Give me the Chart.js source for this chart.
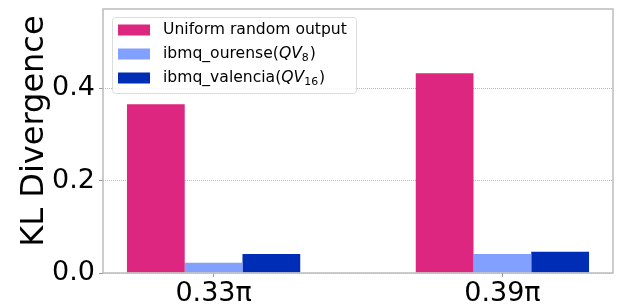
<!DOCTYPE html>
<html>
<head>
<meta charset="utf-8">
<script src="https://cdn.jsdelivr.net/npm/chart.js@4/dist/chart.umd.min.js"></script>
<style>
  html, body { margin: 0; padding: 0; background: #fff; }
  canvas { display: block; }
</style>
</head>
<body>
<canvas id="myChart" width="624" height="305"></canvas>
<script>
// data
const categories = ["0.33π", "0.39π"];
const uniformRandom = [0.365, 0.432];
const ibmqOurense = [0.022, 0.041];
const ibmqValencia = [0.041, 0.046];
const seriesNames = ["Uniform random output", "ibmq_ourense", "ibmq_valencia"];
const quantumVolumes = ["", "8", "16"];
const yTicks = [0, 0.2, 0.4];
const yLabel = "KL Divergence";

const colors = ["#dc267f", "#82a0ff", "#002db5"];
const FONT = "'DejaVu Sans', sans-serif";

const toPoints = (arr) => arr.map((v, i) => ({ x: i, y: v }));

// setup block
const data = {
  datasets: [uniformRandom, ibmqOurense, ibmqValencia].map((vals, i) => ({
    label: seriesNames[i],
    data: toPoints(vals),
    backgroundColor: colors[i],
    borderWidth: 0,
    barPercentage: 1,
    categoryPercentage: 0.6,
  })),
};

// plugin - frame, y title, legend with math text
const extras = {
  id: "extras",
  afterDatasetsDraw(chart) {
    const { ctx, chartArea: a } = chart;
    ctx.save();
    ctx.strokeStyle = "#bcbcbc";
    ctx.lineWidth = 1.5;
    ctx.strokeRect(a.left, a.top, a.right - a.left, a.bottom - a.top);
    ctx.restore();
  },
  afterDraw(chart) {
    const ctx = chart.ctx;
    // y axis title
    ctx.save();
    ctx.translate(43, 131);
    ctx.rotate(-Math.PI / 2);
    ctx.font = "32px " + FONT;
    ctx.fillStyle = "#000";
    ctx.textAlign = "center";
    ctx.textBaseline = "alphabetic";
    ctx.fillText(yLabel, 0, 0);
    ctx.restore();

    // legend
    ctx.save();
    ctx.fillStyle = "rgba(255,255,255,0.8)";
    ctx.strokeStyle = "#dcdcdc";
    ctx.lineWidth = 1;
    ctx.beginPath();
    ctx.roundRect(112.5, 17.5, 244, 76, 3);
    ctx.fill();
    ctx.stroke();
    const rows = [30, 54, 78];
    const fs = 15.6;
    seriesNames.forEach((name, i) => {
      const y = rows[i];
      ctx.fillStyle = colors[i];
      ctx.fillRect(118, y - 5.5, 32, 11);
      ctx.fillStyle = "#000";
      ctx.textBaseline = "middle";
      ctx.textAlign = "left";
      let x = 163;
      ctx.font = fs + "px " + FONT;
      if (!quantumVolumes[i]) {
        ctx.fillText(name, x, y);
        return;
      }
      const part1 = name + "(";
      ctx.fillText(part1, x, y);
      x += ctx.measureText(part1).width;
      ctx.font = "italic " + fs + "px " + FONT;
      ctx.fillText("QV", x, y);
      x += ctx.measureText("QV").width;
      ctx.font = (fs * 0.7) + "px " + FONT;
      ctx.fillText(quantumVolumes[i], x, y + 4);
      x += ctx.measureText(quantumVolumes[i]).width + 1;
      ctx.font = fs + "px " + FONT;
      ctx.fillText(")", x, y);
    });
    ctx.restore();
  },
};

// config block
const config = {
  type: "bar",
  data: data,
  options: {
    responsive: false,
    animation: false,
    devicePixelRatio: 1,
    layout: { padding: { left: 0, top: 9, right: 11, bottom: 0 } },
    plugins: { legend: { display: false }, tooltip: { enabled: false } },
    scales: {
      x: {
        type: "linear",
        min: -0.383,
        max: 1.383,
        offset: false,
        afterBuildTicks: (axis) => {
          axis.ticks = categories.map((c, i) => ({ value: i }));
        },
        afterFit: (axis) => {
          axis.height = 32;
          axis.paddingLeft = 0;
          axis.paddingRight = 0;
        },
        grid: {
          offset: false,
          drawOnChartArea: false,
          drawTicks: true,
          tickLength: 4,
          tickColor: "#9a9a9a",
          tickWidth: 1,
        },
        border: { display: false },
        ticks: {
          autoSkip: false,
          maxRotation: 0,
          padding: 1,
          color: "#000",
          font: { family: FONT, size: 27 },
          callback: (v) => categories[v] ?? "",
        },
      },
      y: {
        min: 0,
        max: 0.571,
        afterBuildTicks: (axis) => {
          axis.ticks = yTicks.map((v) => ({ value: v }));
        },
        afterFit: (axis) => {
          axis.width = 103;
          axis.paddingTop = 0;
          axis.paddingBottom = 0;
        },
        grid: {
          color: "#a8a8a8",
          lineWidth: 0.8,
          drawTicks: true,
          tickLength: 4,
          tickColor: "#9a9a9a",
          tickWidth: 1,
          tickBorderDash: [],
        },
        border: { display: false, dash: [1, 1] },
        ticks: {
          padding: 4,
          color: "#000",
          font: { family: FONT, size: 27 },
          callback: (v) => v.toFixed(1),
        },
      },
    },
  },
  plugins: [extras],
};

// render init block
const myChart = new Chart(document.getElementById("myChart"), config);
</script>
</body>
</html>
